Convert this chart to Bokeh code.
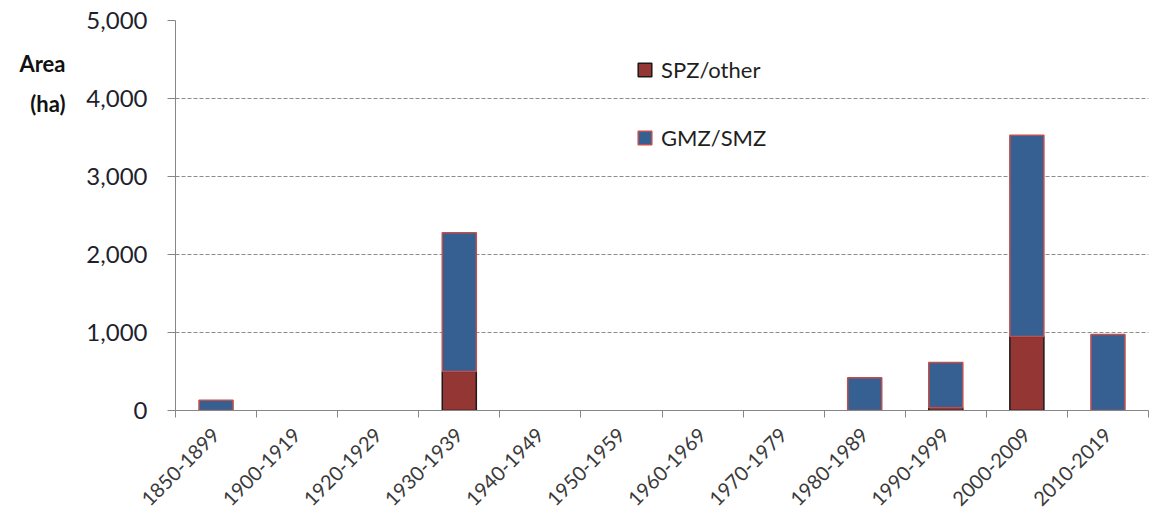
import numpy as np
from bokeh.plotting import figure
from bokeh.models import (ColumnDataSource, Range1d, FixedTicker, Legend, LegendItem,
                          NumeralTickFormatter, LinearAxis)
from bokeh.embed import file_html
from bokeh.resources import INLINE

categories = ["1850-1899", "1900-1919", "1920-1929", "1930-1939", "1940-1949", "1950-1959",
              "1960-1969", "1970-1979", "1980-1989", "1990-1999", "2000-2009", "2010-2019"]
spz_other = [0, 0, 0, 500, 0, 0, 0, 0, 0, 35, 950, 0]
gmz_smz = [130, 0, 0, 1780, 0, 0, 0, 0, 420, 580, 2580, 975]
y_ticks = [0, 1000, 2000, 3000, 4000, 5000]
y_title_lines = ["Area", "(ha)"]

FONT = "Lato"
n = len(categories)
xs = np.arange(n) + 0.5
spz = np.array(spz_other, dtype=float)
gmz = np.array(gmz_smz, dtype=float)

src = ColumnDataSource(dict(
    x=xs,
    spz_top=np.where(spz > 0, spz, np.nan),
    gmz_bottom=spz,
    gmz_top=np.where(gmz > 0, spz + gmz, np.nan),
))

p = figure(width=1150, height=515, output_backend="svg", toolbar_location=None,
           x_range=Range1d(0, n), y_range=Range1d(0, 5000),
           min_border_left=175, min_border_right=2, min_border_top=20, min_border_bottom=105)
p.outline_line_color = None
p.background_fill_color = "white"

r_spz = p.vbar(x="x", top="spz_top", bottom=0, width=0.42, source=src,
               fill_color="#943634", line_color="#1a1a1a", line_width=1.5)
r_gmz = p.vbar(x="x", top="gmz_top", bottom="gmz_bottom", width=0.42, source=src,
               fill_color="#376092", line_color="#c0504d", line_width=1.5)

# x axis
xa = p.xaxis[0]
xa.ticker = FixedTicker(ticks=list(xs), minor_ticks=list(range(n + 1)))
xa.major_label_overrides = {float(x): c for x, c in zip(xs, categories)}
xa.major_tick_line_color = None
xa.minor_tick_out = 7
xa.minor_tick_in = 0
xa.minor_tick_line_color = "#868686"
xa.axis_line_color = "#868686"
xa.major_label_orientation = np.pi / 4
xa.major_label_text_font = FONT
xa.major_label_text_font_size = "20px"
xa.major_label_text_color = "#3a3a3a"
xa.major_label_standoff = 14

# y axis
ya = p.yaxis[0]
ya.ticker = FixedTicker(ticks=y_ticks)
ya.formatter = NumeralTickFormatter(format="0,0")
ya.minor_tick_line_color = None
ya.major_tick_out = 8
ya.major_tick_in = 0
ya.major_tick_line_color = "#868686"
ya.axis_line_color = "#868686"
ya.major_label_text_font = FONT
ya.major_label_text_font_size = "24px"
ya.major_label_text_color = "#1f1f2f"
ya.major_label_standoff = 20

# y-axis title ("Area (ha)") drawn horizontally near the top, as an outer axis
title_pos = [4450, 3940]
ta = LinearAxis(ticker=FixedTicker(ticks=title_pos),
                major_label_overrides={float(v): t for v, t in zip(title_pos, y_title_lines)},
                axis_line_color=None, major_tick_line_color=None, minor_tick_line_color=None,
                major_label_text_font=FONT, major_label_text_font_style="bold",
                major_label_text_font_size="22px", major_label_text_color="#111111",
                major_label_standoff=12)
p.add_layout(ta, "left")

p.xgrid.grid_line_color = None
p.ygrid.grid_line_color = "#8c8c8c"
p.ygrid.grid_line_dash = "4 2"
p.ygrid.grid_line_width = 1

legend = Legend(items=[LegendItem(label="SPZ/other", renderers=[r_spz]),
                       LegendItem(label="GMZ/SMZ", renderers=[r_gmz])],
                location=(461, 259), orientation="vertical",
                border_line_color=None, background_fill_alpha=0,
                label_text_font=FONT, label_text_font_size="22px", label_text_color="#1f1f1f",
                glyph_width=17, glyph_height=17, label_height=20, spacing=41,
                label_standoff=8, padding=0, margin=0)
p.add_layout(legend)

open("out.html", "w").write(file_html(p, INLINE))
